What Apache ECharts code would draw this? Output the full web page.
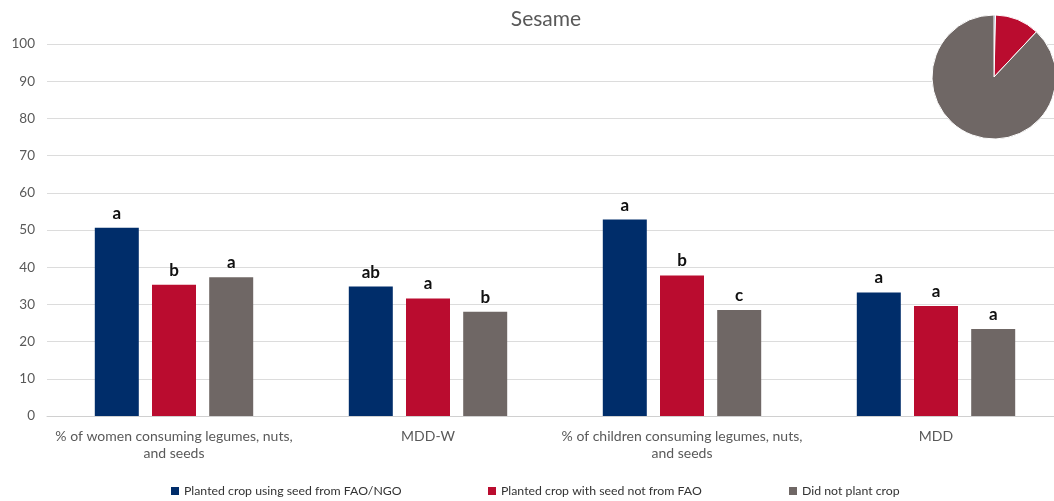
<!DOCTYPE html>
<html><head><meta charset="utf-8">
<script src="https://cdn.jsdelivr.net/npm/echarts@6/dist/echarts.min.js"></script>
<style>html,body{margin:0;padding:0;background:#fff;overflow:hidden}#c{width:1063px;height:501px}</style>
</head><body><div id="c"></div>
<script>
const categories = ["% of women consuming legumes, nuts,\nand seeds", "MDD-W", "% of children consuming legumes, nuts,\nand seeds", "MDD"];
const seriesNames = ["Planted crop using seed from FAO/NGO", "Planted crop with seed not from FAO", "Did not plant crop"];
const fromFAO = [50.6, 34.8, 52.8, 33.2];
const notFAO = [35.3, 31.6, 37.8, 29.6];
const didNot = [37.3, 28.0, 28.5, 23.4];
const fromFAOLetters = ["a", "ab", "a", "a"];
const notFAOLetters = ["b", "a", "b", "a"];
const didNotLetters = ["a", "b", "c", "a"];
const pieValues = [0.4, 11.6, 88.0];
const yTicks = [0, 10, 20, 30, 40, 50, 60, 70, 80, 90, 100];

const colors = ["#002D6A", "#BA0C2F", "#6F6765"];
const font = "Lato, 'Open Sans', sans-serif";
function mk(name, data, letters, color) {
  return {
    name, type: "bar", data, barWidth: 44, barGap: "30%",
    itemStyle: { color },
    label: { show: true, position: "top", distance: 6, color: "#111", fontFamily: font, fontWeight: "bold", fontSize: 17,
      formatter: p => letters[p.dataIndex] }
  };
}
const legendX = [166, 483, 784];
const chart = echarts.init(document.getElementById("c"));
chart.setOption({
  animation: false,
  title: { text: "Sesame", left: 541, top: 4, textAlign: "center",
    textStyle: { color: "#595959", fontFamily: font, fontWeight: "normal", fontSize: 21 } },
  legend: seriesNames.map((n, i) => ({
    top: 480, left: legendX[i], itemWidth: 8, itemHeight: 8, itemGap: 0, icon: "rect",
    textStyle: { color: "#333", fontFamily: font, fontSize: 12.3 }, data: [n] })),
  grid: { left: 47, top: 44, right: 0, height: 372 },
  xAxis: { type: "category", data: categories,
    axisLine: { lineStyle: { color: "#d0d0d0" } }, axisTick: { show: false },
    axisLabel: { color: "#595959", fontFamily: font, fontSize: 14, lineHeight: 17, margin: 12, interval: 0 } },
  yAxis: { type: "value", min: 0, max: 100, interval: 10,
    axisLabel: { color: "#595959", fontFamily: font, fontSize: 13.5, margin: 12,
      formatter: v => yTicks.includes(v) ? String(v) : "" },
    splitLine: { lineStyle: { color: "#dcdcdc" } } },
  series: [
    mk(seriesNames[0], fromFAO, fromFAOLetters, colors[0]),
    mk(seriesNames[1], notFAO, notFAOLetters, colors[1]),
    mk(seriesNames[2], didNot, didNotLetters, colors[2]),
    { type: "pie", center: [994, 77], radius: 62, startAngle: 90, clockwise: true,
      label: { show: false }, labelLine: { show: false }, silent: true, legendHoverLink: false,
      itemStyle: { borderColor: "#fff", borderWidth: 1 },
      data: pieValues.map((v, i) => ({ value: v, name: "pie" + i, itemStyle: { color: colors[i] } })) }
  ]
});
</script></body></html>
